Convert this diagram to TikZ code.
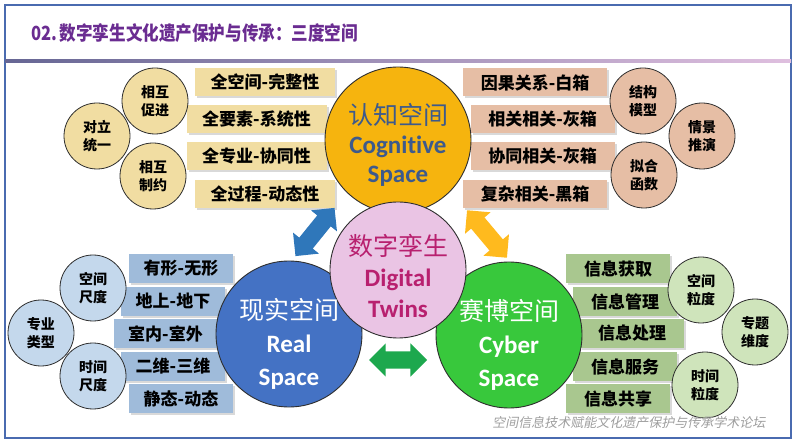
\documentclass[tikz,border=0pt]{standalone}
\usepackage{fontspec}
\newfontfamily\cjk{Noto Sans CJK SC}
\newfontfamily\cjkslant{Noto Sans CJK SC}[FakeSlant=0.2]
\newfontfamily\lat{Carlito}[Ligatures=NoCommon]
\usetikzlibrary{shapes.arrows,shadows}

\begin{document}
\begin{tikzpicture}[x=1pt, y=-1pt,
    box/.style={rectangle, inner sep=0pt, minimum height=28pt, font=\cjk\bfseries\fontsize{17}{20}\selectfont,
        drop shadow={shadow xshift=2pt, shadow yshift=-2pt, opacity=0.3}},
    ball/.style={circle, draw=lineColour, line width=0.8pt, inner sep=0pt, minimum size=66pt,
        align=center, font=\cjk\bfseries\fontsize{14}{18}\selectfont},
    space/.style={circle, draw=lineColour, line width=0.9pt, inner sep=0pt, minimum size=146pt},
    spacetext/.style={align=center, font=\fontsize{25}{31}\selectfont},
    twoway/.style={double arrow, inner sep=8.5pt, double arrow head extend=8pt, minimum height=62pt}]
    % Define colours
    \definecolor{lineColour}{HTML}{2E2E2E}
    \definecolor{frameColour}{HTML}{4A6BB0}
    \definecolor{titleColour}{HTML}{6A2C91}
    \definecolor{tanBox}{HTML}{F1DDA2}
    \definecolor{salmonBox}{HTML}{E6BEA5}
    \definecolor{steelBox}{HTML}{9FBBDA}
    \definecolor{steelBall}{HTML}{C4D8EC}
    \definecolor{sageBox}{HTML}{A9C78F}
    \definecolor{sageBall}{HTML}{CFE4BB}
    \definecolor{cogFill}{HTML}{F6B40E}
    \definecolor{cogText}{HTML}{3D5A8C}
    \definecolor{twinFill}{HTML}{EAC4E4}
    \definecolor{twinText}{HTML}{B8206F}
    \definecolor{realFill}{HTML}{4472C4}
    \definecolor{cyberFill}{HTML}{38C83C}
    \definecolor{blueArrow}{HTML}{2F77BA}
    \definecolor{yellowArrow}{HTML}{FFBA1E}
    \definecolor{greenArrow}{HTML}{1DA84E}

    % Page frame and title
    \useasboundingbox (0,0) rectangle (800,443);
    \draw[frameColour, line width=1.5pt] (5,5) rectangle (791,438);
    \shade[left color=black!70!blue!60, right color=violet!25] (5,59.5) rectangle (791,62.5);
    \node[anchor=west, text=titleColour, xscale=0.85, font=\cjk\bfseries\fontsize{19.5}{22}\selectfont] (title) at (28,33)
        {02.\,数字孪生文化遗产保护与传承：三度空间};

    % Boxes round the cognitive space
    \foreach \txt/\cx/\cy [count=\i] in {全空间-完整性/265/82, 全要素-系统性/256.5/119.5,
        全专业-协同性/256.5/156.5, 全过程-动态性/265/194}
        \node[box, fill=tanBox, minimum width=140pt] (tanbox\i) at (\cx,\cy) {\txt};
    \foreach \txt/\cx/\cy [count=\i] in {因果关系-白箱/535/82.5, 相关相关-灰箱/542.5/119.5,
        协同相关-灰箱/542.5/156.5, 复杂相关-黑箱/535/194}
        \node[box, fill=salmonBox, minimum width=144pt] (salmonbox\i) at (\cx,\cy) {\txt};

    % Boxes round the real and cyber spaces
    \foreach \txt/\cx/\cy [count=\i] in {有形-无形/181/268.5, 地上-地下/173/301.5,
        室内-室外/165.5/333.5, 二维-三维/173/366.5, 静态-动态/181/398.5}
        \node[box, fill=steelBox, minimum width=104pt, minimum height=29pt] (steelbox\i) at (\cx,\cy) {\txt};
    \foreach \txt/\cx/\cy [count=\i] in {信息获取/618/268.5, 信息管理/625/301.5,
        信息处理/632/333.5, 信息服务/625/366.5, 信息共享/618/398.5}
        \node[box, fill=sageBox, minimum width=104pt, minimum height=29pt] (sagebox\i) at (\cx,\cy) {\txt};

    % Small circles
    \node[ball, fill=tanBox] (promote) at (155,101) {相互\\促进};
    \node[ball, fill=tanBox] (unity) at (97,136) {对立\\统一};
    \node[ball, fill=tanBox] (restrict) at (153,176) {相互\\制约};
    \node[ball, fill=salmonBox] (model) at (643,101) {结构\\模型};
    \node[ball, fill=salmonBox] (scene) at (702,136) {情景\\推演};
    \node[ball, fill=salmonBox] (fitting) at (644,175) {拟合\\函数};
    \node[ball, fill=steelBall] (spacescale) at (93,288) {空间\\尺度};
    \node[ball, fill=steelBall] (majortype) at (41,333) {专业\\类型};
    \node[ball, fill=steelBall] (timescale) at (93,376) {时间\\尺度};
    \node[ball, fill=sageBall] (spacegrain) at (701,290) {空间\\粒度};
    \node[ball, fill=sageBall] (topic) at (755,332) {专题\\维度};
    \node[ball, fill=sageBall] (timegrain) at (705,385) {时间\\粒度};

    % Three spaces and the twin
    \node[space, fill=realFill] (real) at (289,334) {};
    \node[space, fill=cyberFill] (cyber) at (509,335) {};
    \node[space, fill=cogFill] (cog) at (398,140) {};
    \node[space, fill=twinFill, minimum size=136pt] (twin) at (398,270) {};

    \node[spacetext, text=cogText, font=\fontsize{25}{29}\selectfont] (cogtext) at ([yshift=-5pt]cog.center)
        {\cjk 认知空间\\\lat\bfseries Cognitive\\\lat\bfseries Space};
    \node[spacetext, text=twinText] (twintext) at ([yshift=-6pt]twin.center)
        {\cjk 数字孪生\\\lat\bfseries Digital\\\lat\bfseries Twins};
    \node[spacetext, text=white, font=\fontsize{25}{33}\selectfont] (realtext) at ([yshift=-10pt]real.center)
        {\cjk 现实空间\\\lat\bfseries Real\\\lat\bfseries Space};
    \node[spacetext, text=white, font=\fontsize{25}{33}\selectfont] (cybertext) at ([yshift=-10pt]cyber.center)
        {\cjk 赛博空间\\\lat\bfseries Cyber\\\lat\bfseries Space};

    % Two-way arrows
    \node[twoway, fill=blueArrow, rotate=51] (realcog) at (315,232) {};
    \node[twoway, fill=yellowArrow, rotate=-50] (cogcyber) at (487,234) {};
    \node[twoway, fill=greenArrow, minimum height=58pt] (realcyber) at (398,360) {};

    % Forum note
    \node[anchor=east, text=black!38, font=\cjkslant\fontsize{13}{15}\selectfont] (forum) at (769,423)
        {空间信息技术赋能文化遗产保护与传承学术论坛};

\end{tikzpicture}
\end{document}
